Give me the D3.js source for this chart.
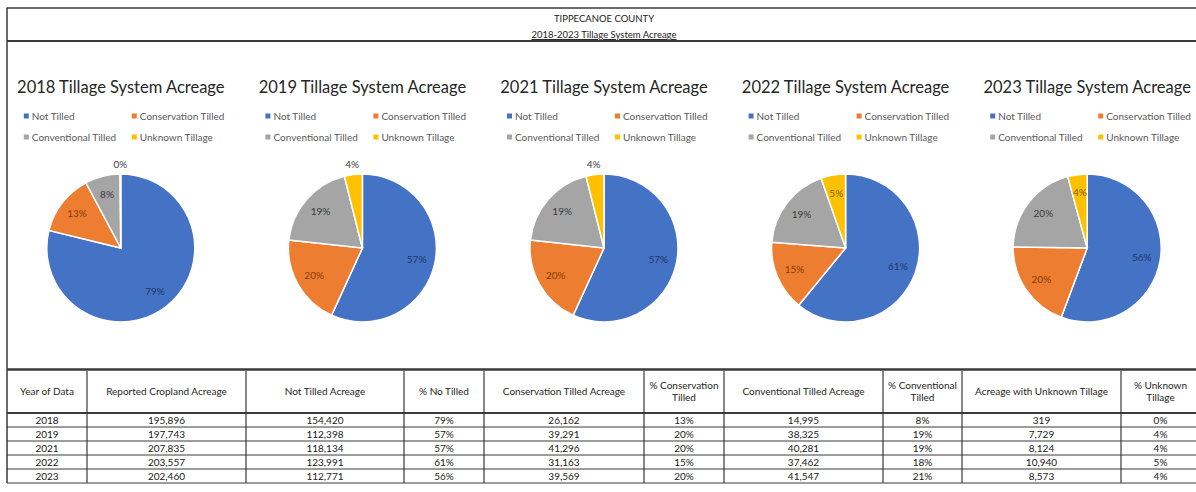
<!DOCTYPE html>
<html>
<head>
<meta charset="utf-8">
<script src="https://cdn.jsdelivr.net/npm/d3@7"></script>
<style>
  body { margin: 0; background: #fff; }
  text { font-family: Lato, "Liberation Sans", sans-serif; }
</style>
</head>
<body>
<div id="chart"></div>
<script>
// table + pie data, read from the sheet
const years = ["2018", "2019", "2021", "2022", "2023"]
const cropland = [195896, 197743, 207835, 203557, 202460]
const notTilled = [154420, 112398, 118134, 123991, 112771]
const conservation = [26162, 39291, 41296, 31163, 39569]
const conventional = [14995, 38325, 40281, 37462, 41547]
const unknown = [319, 7729, 8124, 10940, 8573]
const pctNoTill = [79, 57, 57, 61, 56]
const pctCons = [13, 20, 20, 15, 20]
const pctConv = [8, 19, 19, 18, 21]
const pctUnknown = [0, 4, 4, 5, 4]
// the pie labels don't always agree with the table
const pieLabelNoTill = [79, 57, 57, 61, 56]
const pieLabelCons = [13, 20, 20, 15, 20]
const pieLabelConv = [8, 19, 19, 19, 20]
const pieLabelUnknown = [0, 4, 4, 5, 4]

const categories = ["Not Tilled", "Conservation Tilled", "Conventional Tilled", "Unknown Tillage"]
const colors = ["#4472C4", "#ED7D31", "#A5A5A5", "#FFC000"]
const labelColors = ["#1F3864", "#843C0C", "#3A3A3A", "#7F6000"]

const headers = [["Year of Data"], ["Reported Cropland Acreage"], ["Not Tilled Acreage"], ["% No Tilled"],
  ["Conservation Tilled Acreage"], ["% Conservation", "Tilled"], ["Conventional Tilled Acreage"],
  ["% Conventional", "Tilled"], ["Acreage with Unknown Tillage"], ["% Unknown", "Tillage"]]

const width = 1196
const height = 492
const lineColor = "#3a3a3a"

const svg = d3.select("#chart")
  .append("svg")
    .attr("width", width)
    .attr("height", height)

// --- header band ---
svg.append("text")
  .attr("x", 604).attr("y", 22)
  .attr("text-anchor", "middle")
  .style("font-size", "9.5px").style("fill", "#222")
  .text("TIPPECANOE COUNTY")
svg.append("text")
  .attr("x", 604).attr("y", 38)
  .attr("text-anchor", "middle")
  .style("font-size", "9.5px").style("fill", "#222")
  .style("text-decoration", "underline")
  .text("2018-2023 Tillage System Acreage")

svg.append("line").attr("x1", 7).attr("x2", width).attr("y1", 8).attr("y2", 8)
  .attr("stroke", lineColor).attr("stroke-width", 1.5)
svg.append("line").attr("x1", 7).attr("x2", width).attr("y1", 41).attr("y2", 41)
  .attr("stroke", lineColor).attr("stroke-width", 2)

// --- pies ---
const x = d3.scaleBand().domain(years).range([0, 1208])
const radius = 74
const cy = 248

const pie = d3.pie().sort(null)
const arc = d3.arc().innerRadius(0).outerRadius(radius)
const labelArc = d3.arc().innerRadius(radius * 0.75).outerRadius(radius * 0.75)
const outerArc = d3.arc().innerRadius(radius + 10).outerRadius(radius + 10)

years.forEach(function(yr, i) {
  const cx = x(yr) + x.bandwidth() / 2
  const g = svg.append("g").attr("transform", `translate(${cx},0)`)
  const values = [notTilled[i], conservation[i], conventional[i], unknown[i]]
  const labels = [pieLabelNoTill[i], pieLabelCons[i], pieLabelConv[i], pieLabelUnknown[i]]
  const total = d3.sum(values)

  g.append("text")
    .attr("x", 0).attr("y", 93)
    .attr("text-anchor", "middle")
    .style("font-size", "16.5px").style("fill", "#262626")
    .text(yr + " Tillage System Acreage")

  // legend, 2 x 2
  const leg = g.selectAll("g.leg")
    .data(categories)
    .join("g")
      .attr("class", "leg")
      .attr("transform", (d, j) => `translate(${j % 2 ? 11 : -97},${j < 2 ? 116 : 137})`)
  leg.append("rect")
    .attr("x", 0).attr("y", -2.5).attr("width", 5).attr("height", 5)
    .attr("fill", (d, j) => colors[j])
  leg.append("text")
    .attr("x", 8).attr("y", 3.5)
    .style("font-size", "10px").style("fill", "#595959")
    .text(d => d)

  const pg = g.append("g").attr("transform", `translate(0,${cy})`)
  const arcs = pie(values)
  pg.selectAll("path")
    .data(arcs)
    .join("path")
      .attr("d", arc)
      .attr("fill", (d, j) => colors[j])
      .attr("stroke", "#fff")
      .attr("stroke-width", 1.5)

  pg.selectAll("text")
    .data(arcs)
    .join("text")
      .attr("transform", d => {
        const out = d.value / total < 0.04
        return `translate(${(out ? outerArc : labelArc).centroid(d)})`
      })
      .attr("text-anchor", "middle")
      .attr("dy", "0.35em")
      .style("font-size", "10px")
      .style("fill", (d, j) => d.value / total < 0.04 ? "#404040" : labelColors[j])
      .text((d, j) => labels[j] + "%")
})

// --- table ---
const colEdges = [7, 87, 246, 404, 484, 644, 724, 883, 962, 1121, 1200]
const tableTop = 371
const headBottom = 413
const rowH = 14
const tableBottom = headBottom + years.length * rowH
const fmt = d3.format(",")
const rows = years.map((yr, i) => [yr, fmt(cropland[i]), fmt(notTilled[i]), pctNoTill[i] + "%",
  fmt(conservation[i]), pctCons[i] + "%", fmt(conventional[i]), pctConv[i] + "%",
  fmt(unknown[i]), pctUnknown[i] + "%"])

svg.append("line").attr("x1", 7).attr("x2", 7).attr("y1", 7.5).attr("y2", tableBottom)
  .attr("stroke", lineColor).attr("stroke-width", 1.5)

const table = svg.append("g")

table.append("line").attr("x1", 7).attr("x2", width).attr("y1", 369.5).attr("y2", 369.5)
  .attr("stroke", lineColor).attr("stroke-width", 2.5)
table.append("line").attr("x1", 7).attr("x2", width).attr("y1", headBottom).attr("y2", headBottom)
  .attr("stroke", lineColor).attr("stroke-width", 2)
table.selectAll("line.row")
  .data(d3.range(1, rows.length + 1))
  .join("line")
    .attr("class", "row")
    .attr("x1", 7).attr("x2", width)
    .attr("y1", d => headBottom + d * rowH).attr("y2", d => headBottom + d * rowH)
    .attr("stroke", lineColor).attr("stroke-width", 1)
table.selectAll("line.col")
  .data(colEdges.slice(1, -1))
  .join("line")
    .attr("class", "col")
    .attr("x1", d => d).attr("x2", d => d)
    .attr("y1", tableTop).attr("y2", tableBottom)
    .attr("stroke", lineColor).attr("stroke-width", 1.2)

headers.forEach(function(h, c) {
  const mid = (colEdges[c] + colEdges[c + 1]) / 2
  const t = table.append("text")
    .attr("x", mid)
    .attr("text-anchor", "middle")
    .style("font-size", "10px").style("fill", "#262626")
  h.forEach((line, k) => {
    t.append("tspan")
      .attr("x", mid)
      .attr("y", 395 - (h.length - 1) * 6 + k * 12)
      .text(line)
  })
})

rows.forEach(function(r, i) {
  r.forEach(function(v, c) {
    table.append("text")
      .attr("x", (colEdges[c] + colEdges[c + 1]) / 2)
      .attr("y", headBottom + i * rowH + rowH / 2)
      .attr("dy", "0.35em")
      .attr("text-anchor", "middle")
      .style("font-size", "10px").style("fill", "#1a1a1a")
      .text(v)
  })
})
</script>
</body>
</html>
